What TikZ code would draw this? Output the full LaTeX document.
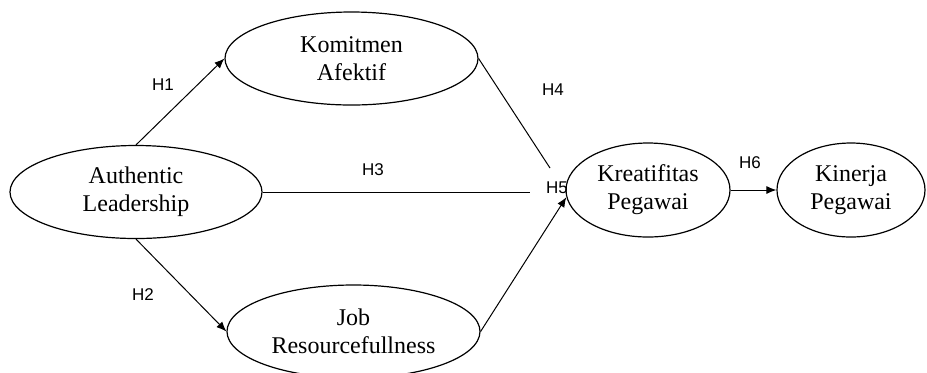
\documentclass[tikz,border=0pt]{standalone}
\usepackage{fontspec}
\setmainfont{Liberation Serif}
\newfontfamily\labelfont{Liberation Sans}
\usepackage{tikz}
\usetikzlibrary{arrows.meta,shapes.geometric,positioning}

\begin{document}
\begin{tikzpicture}[x=0.5pt,y=-0.5pt,
    construct/.style={draw, ellipse, line width=0.6pt, inner sep=0pt, align=center,
                      font=\fontsize{12}{14}\selectfont},
    hyp/.style={font=\labelfont\fontsize{8.5}{10}\selectfont},
    path/.style={line width=0.5pt, -{Latex[length=5pt,width=4pt]}}]
                    \useasboundingbox (0,0) rectangle (927,372);
                    \node[construct, minimum width=126pt, minimum height=46.5pt] (al) at (136,192) {Authentic\\Leadership};
                    \node[construct, minimum width=126.5pt, minimum height=46.5pt] (ka) at (351.5,58.5) {Komitmen\\Afektif};
                    \node[construct, minimum width=126.5pt, minimum height=46.5pt] (jr) at (353.5,331.5) {Job\\Resourcefullness};
                    \node[construct, minimum width=82pt, minimum height=47pt] (kp) at (648,190) {Kreatifitas\\Pegawai};
                    \node[construct, minimum width=74pt, minimum height=47pt] (kin) at (851,190) {Kinerja\\Pegawai};

                    \coordinate (h3end) at (530,192);
                    \coordinate (h4end) at (550,168);

                    \node[hyp] (h1) at (163,85) {H1};
                    \node[hyp] (h2) at (143,295) {H2};
                    \node[hyp] (h3) at (373,170) {H3};
                    \node[hyp] (h4) at (553,90) {H4};
                    \node[hyp] (h5) at (557,188) {H5};
                    \node[hyp] (h6) at (750,163) {H6};

                    \draw[path] (al.north) -- (ka.west);
                    \draw[path] (al.south) -- (jr.west);
                    \draw[line width=0.5pt] (al.east) -- (h3end);
                    \draw[line width=0.5pt] (ka.east) -- (h4end);
                    \draw[path] (jr.east) -- (kp.185);
                    \draw[path] (kp.east) -- (kin.west);
                \end{tikzpicture}
\end{document}
